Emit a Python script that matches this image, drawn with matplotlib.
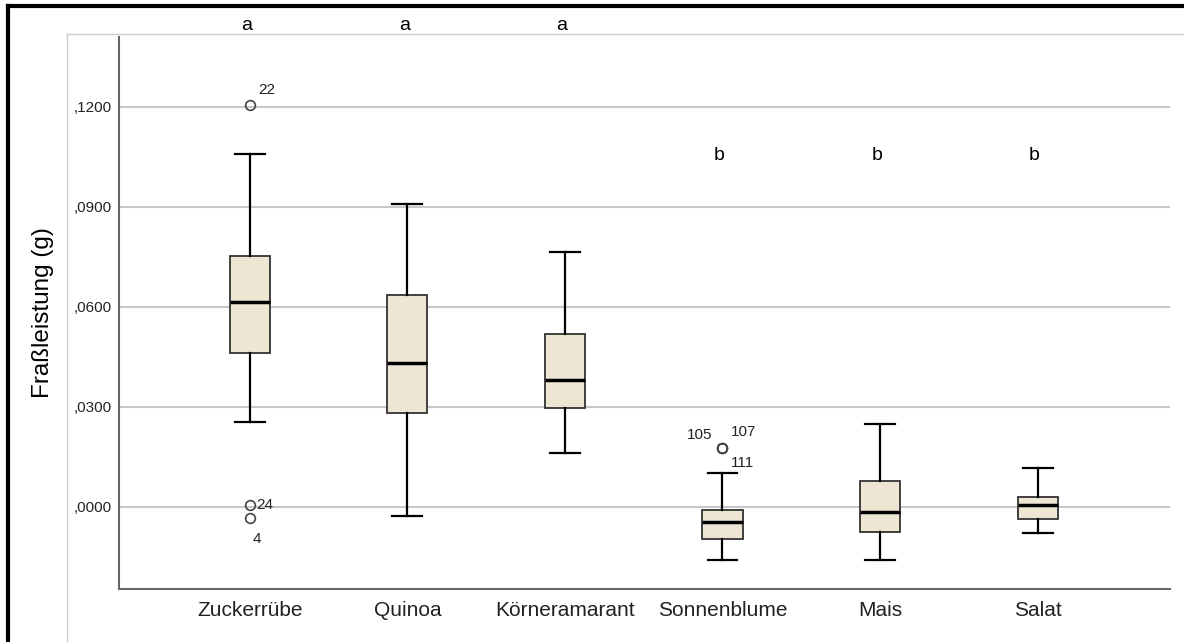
import numpy as np
import matplotlib
matplotlib.use("Agg")
import matplotlib.pyplot as plt
from matplotlib.lines import Line2D
from matplotlib.ticker import FuncFormatter

plt.rcParams["font.family"] = ["Liberation Sans", "DejaVu Sans"]

categories = ["Zuckerrübe", "Quinoa", "Körneramarant", "Sonnenblume", "Mais", "Salat"]
whislo = [0.0256, -0.0026, 0.0161, -0.0159, -0.0160, -0.0079]
q1 = [0.0462, 0.0281, 0.0298, -0.0095, -0.0074, -0.0035]
med = [0.0614, 0.0431, 0.0381, -0.0044, -0.0016, 0.0006]
q3 = [0.0754, 0.0635, 0.0519, -0.0009, 0.0079, 0.0031]
whishi = [0.1059, 0.0909, 0.0766, 0.0103, 0.0249, 0.0116]
outliers = [[0.1206, 0.0005, -0.0032], [], [], [0.0178, 0.0178, 0.0178], [], []]
outlier_ids = [["22", "24", "4"], [], [], ["105", "107", "111"], [], []]
letters = ["a", "a", "a", "b", "b", "b"]
yticks = [0.0, 0.03, 0.06, 0.09, 0.12]

fig = plt.figure(figsize=(11.84, 6.42), dpi=100)
ax = fig.add_axes([119 / 1184, 1 - 589 / 642, (1170 - 119) / 1184, (589 - 37) / 642])

# frames around the chart (as in the SPSS export)
fig.add_artist(Line2D([8 / 1184, 1.0], [1 - 6 / 642, 1 - 6 / 642], color="black", lw=3))
fig.add_artist(Line2D([8 / 1184, 8 / 1184], [0, 1 - 6 / 642], color="black", lw=3))
fig.add_artist(Line2D([67 / 1184, 1.0], [1 - 34 / 642, 1 - 34 / 642], color="#cccccc", lw=1))
fig.add_artist(Line2D([67 / 1184, 67 / 1184], [0, 1 - 34 / 642], color="#cccccc", lw=1))

stats = []
for i, name in enumerate(categories):
    stats.append(dict(label=name, whislo=whislo[i], q1=q1[i], med=med[i],
                      q3=q3[i], whishi=whishi[i], fliers=outliers[i]))

pos = np.arange(len(categories))
ax.bxp(stats, positions=pos, widths=0.254, patch_artist=True,
       boxprops=dict(facecolor="#ece6d2", edgecolor="#333333", linewidth=1.3),
       medianprops=dict(color="black", linewidth=2.5),
       whiskerprops=dict(color="black", linewidth=1.6),
       capprops=dict(color="black", linewidth=1.6),
       capwidths=0.19,
       flierprops=dict(marker="o", markersize=7, markerfacecolor="none",
                       markeredgecolor="#444444", markeredgewidth=1.2))

# outlier case numbers
offsets = {"22": (6, 6, "left", "bottom"), "24": (5, 0, "left", "center"),
           "4": (2, -10, "left", "top"), "105": (-7, 4, "right", "bottom"),
           "107": (6, 6, "left", "bottom"), "111": (6, -6, "left", "top")}
for i in range(len(categories)):
    for val, lab in zip(outliers[i], outlier_ids[i]):
        dx, dy, ha, va = offsets[lab]
        ax.annotate(lab, (pos[i], val), xytext=(dx, dy), textcoords="offset points",
                    ha=ha, va=va, fontsize=11, color="#222222")

# group letters
for i, l in enumerate(letters):
    y = 0.1445 if l == "a" else 0.1055
    ax.text(pos[i] - 0.02, y, l, ha="center", va="center", fontsize=14,
            color="black", clip_on=False)

ax.set_xlim(-0.83, 5.84)
ax.set_ylim(-0.0246, 0.141)
ax.set_yticks(yticks)
ax.yaxis.set_major_formatter(FuncFormatter(lambda v, p: ("%.4f" % v).lstrip("0").replace(".", ",")))
ax.grid(axis="y", color="#c8c8c8", linewidth=1.5)
ax.set_axisbelow(True)
ax.tick_params(length=0)
ax.tick_params(axis="y", labelsize=11, pad=5, colors="#222222")
ax.tick_params(axis="x", labelsize=15, pad=9, colors="#222222")
ax.set_ylabel("Fraßleistung (g)", fontsize=17.5, labelpad=14)
for s in ["top", "right"]:
    ax.spines[s].set_visible(False)
for s in ["left", "bottom"]:
    ax.spines[s].set_color("#666666")
    ax.spines[s].set_linewidth(1.5)

fig.savefig("out.png", dpi=100)
